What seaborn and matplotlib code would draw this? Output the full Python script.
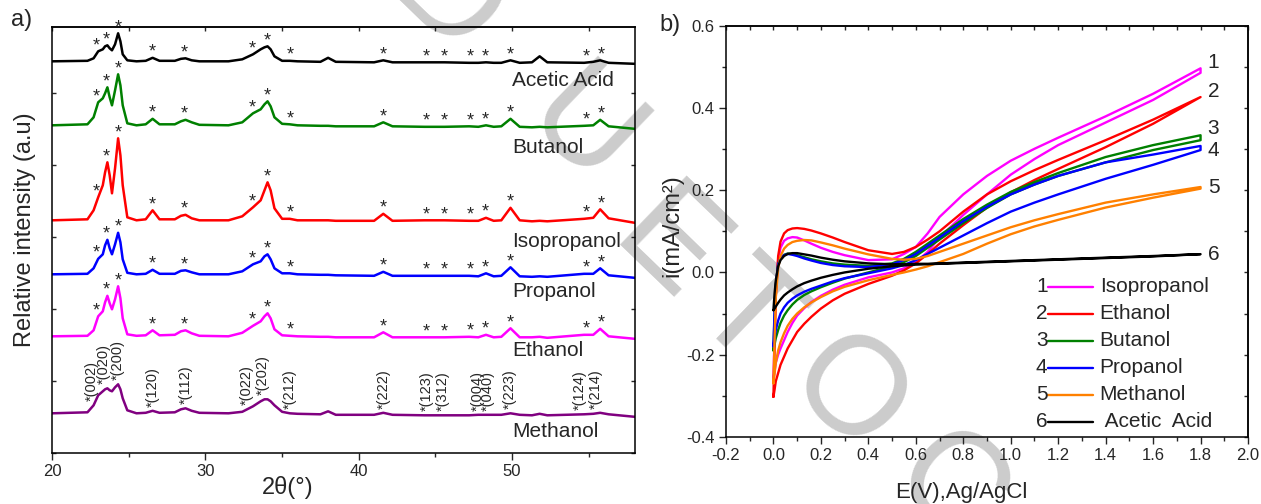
import numpy as np
import pandas as pd
import seaborn as sns
import matplotlib.pyplot as plt
from matplotlib.ticker import MultipleLocator, FormatStrFormatter

# ---------------- a) XRD patterns (counts above each baseline, a.u.) ----------------
two_theta = [20.0, 22.3, 22.7, 23.0, 23.3, 23.45, 23.6, 23.75, 23.9, 24.1, 24.3, 24.45, 24.6, 24.9,
             25.5, 26.1, 26.55, 27.0, 28.0, 28.4, 28.7, 29.1, 29.6, 31.5, 32.4, 33.1, 33.6, 33.85,
             34.05, 34.25, 34.5, 35.0, 35.5, 36.0, 37.5, 38.0, 38.5, 41.0, 41.6, 42.2, 44.3, 45.6,
             47.2, 47.8, 48.3, 48.8, 49.3, 49.9, 50.5, 51.3, 51.8, 52.3, 54.7, 55.3, 55.75, 56.3, 58.0]

acetic_acid = [0, 0.5, 3, 10, 12, 15, 16, 13, 11, 17, 28, 20, 7, 1,
               0, 0.5, 3.5, 0.5, 0.5, 2.5, 3, 1, 0, 0, 2, 7, 12, 14,
               15, 12, 5, 0.5, 0.5, 0, -0.5, 3.5, -0.5, -1, 1, -1, -1, -1,
               -1.5, -1.5, -1, -1.5, -1.5, 1, -1.5, -1, 5, -1, -1.5, -0.5, 1, -1.5, -2.5]
butanol = [0, 1, 8, 23, 27, 32, 38, 28, 20, 35, 51, 40, 20, 2,
           0, 1, 6.5, 1, 1, 4, 5.5, 3, 0.5, 0, 3, 12, 16, 21,
           24, 19, 8, 1.5, 1, 0, -0.5, -0.5, -1, -1, 3, -1, -1.5, -1.5,
           -1, -1.5, 0, -1.5, -1, 6.5, -1.5, -2, -1.5, -2, -0.5, 0, 5.5, -1, -3.5]
isopropanol = [0, 1, 10, 23, 35, 48, 58, 45, 27, 52, 82, 65, 35, 3,
               0, 1, 10, 1, 1, 4.5, 5.5, 2, 0, 0, 4, 13, 20, 30,
               38, 30, 12, 1.5, 1.5, 0, 0, 0, -0.5, -0.5, 6.5, -0.5, 0, 0,
               -0.5, -0.5, 2.5, -0.5, 0, 12.5, 0, -1, -0.5, -1, 1.5, 2.5, 11, 2, -2.5]
propanol = [0, 0.5, 6, 15.5, 20, 29, 34.5, 26, 20, 30, 41.5, 32, 15, 1.5,
            0, 0.5, 4.5, 0.5, 0.5, 3.5, 4, 2, 0, 0, 3, 10, 13, 18,
            20, 15, 6, 1, 1, 0, -0.5, -0.5, -1, -1.5, 2.5, -1.5, -1.5, -1.5,
            -1.5, -2, 1, -2, -1.5, 7, -2, -2.5, -2, -2.5, 0.5, 0.5, 6, -1, -3.5]
ethanol = [0, 0.5, 6, 20, 25, 34, 40.5, 33, 27, 37, 50, 38, 18, 2,
           0.5, 1, 6, 1, 1.5, 5, 6, 3, 0.5, 0, 3.5, 10.5, 15, 20,
           23, 18, 7, 1, 0.5, 0, -0.5, -0.5, -1, -1, 4, -1, -1, -1,
           -0.5, -1, 1.5, -1, -0.5, 8, -1, -1, -0.5, -1.5, 1.5, 1.5, 7.5, 0, -2.5]
methanol = [0, 1, 8, 18, 22, 24, 25, 23, 22, 26, 29, 24, 15, 3,
            0, 0.5, 2.5, 0.5, 1, 4, 5, 2.5, 0.5, 0, 1.5, 7, 12, 14,
            14, 12, 8, 1.5, 0, -0.5, -1, 2, -1.5, -1.5, 0.5, -1.5, -2, -2,
            -2, -1.5, -1.5, -1.5, -1.5, 0, -1.5, -2, -0.5, -2, -1, -0.5, 0.5, -1, -3.5]

xrd_samples = ["Acetic Acid", "Butanol", "Isopropanol", "Propanol", "Ethanol", "Methanol"]
xrd_counts = [acetic_acid, butanol, isopropanol, propanol, ethanol, methanol]
xrd_offsets = [392, 328, 233, 179, 117, 40]
xrd_colors = ["black", "#008000", "#ff0000", "#0000ff", "#ff00ff", "#800080"]
label_y = [373, 306, 212, 162, 103, 22]

star_positions = [22.9, 23.55, 24.3, 26.55, 28.6, 33.05, 34.05, 35.5, 41.6,
                  44.4, 45.6, 47.25, 48.25, 49.9, 54.85, 55.8]
hkl_labels = ["(002)", "(020)", "(200)", "(120)", "(112)", "(022)", "(202)", "(212)",
              "(222)", "(123)", "(312)", "(004)", "(040)", "(223)", "(124)", "(214)"]
hkl_positions = [22.58, 23.38, 24.31, 26.58, 28.71, 32.7, 33.76, 35.5,
                 41.62, 44.41, 45.48, 47.74, 48.41, 49.87, 54.4, 55.46]

# ---------------- b) cyclic voltammograms (mA/cm2) ----------------
potential = [0, 0.005, 0.01, 0.02, 0.03, 0.045, 0.06, 0.08, 0.1, 0.13, 0.16, 0.2, 0.25, 0.3,
             0.4, 0.5, 0.55, 0.6, 0.65, 0.7, 0.8, 0.9, 1.0, 1.1, 1.2, 1.4, 1.6, 1.8]

isopropanol_fwd = [-0.26, -0.15, -0.05, 0.03, 0.06, 0.077, 0.083, 0.086, 0.085, 0.078, 0.07, 0.06, 0.05, 0.042,
                   0.03, 0.032, 0.045, 0.062, 0.095, 0.135, 0.19, 0.235, 0.272, 0.301, 0.328, 0.38, 0.435, 0.497]
isopropanol_rev = [-0.26, -0.24, -0.22, -0.2, -0.185, -0.165, -0.145, -0.123, -0.105, -0.087, -0.072, -0.057, -0.042, -0.03,
                   -0.012, 0.0, 0.01, 0.025, 0.05, 0.085, 0.14, 0.19, 0.238, 0.276, 0.31, 0.365, 0.42, 0.486]
ethanol_fwd = [-0.303, -0.18, -0.06, 0.04, 0.075, 0.095, 0.103, 0.107, 0.108, 0.106, 0.102, 0.095, 0.085, 0.074,
               0.054, 0.045, 0.05, 0.062, 0.08, 0.1, 0.148, 0.19, 0.222, 0.249, 0.274, 0.322, 0.372, 0.427]
ethanol_rev = [-0.303, -0.285, -0.265, -0.245, -0.225, -0.205, -0.185, -0.165, -0.145, -0.125, -0.108, -0.088, -0.068, -0.052,
               -0.028, -0.008, 0.005, 0.022, 0.045, 0.07, 0.115, 0.158, 0.195, 0.225, 0.252, 0.305, 0.362, 0.427]
butanol_fwd = [-0.19, -0.1, -0.03, 0.02, 0.035, 0.043, 0.046, 0.045, 0.042, 0.037, 0.032, 0.027, 0.022, 0.019,
               0.016, 0.022, 0.033, 0.05, 0.07, 0.09, 0.13, 0.165, 0.196, 0.22, 0.242, 0.281, 0.31, 0.334]
butanol_rev = [-0.19, -0.175, -0.16, -0.14, -0.123, -0.105, -0.092, -0.078, -0.067, -0.055, -0.046, -0.036, -0.025, -0.015,
               0.0, 0.015, 0.025, 0.04, 0.06, 0.08, 0.12, 0.157, 0.19, 0.214, 0.235, 0.268, 0.298, 0.322]
propanol_fwd = [-0.18, -0.09, -0.03, 0.02, 0.035, 0.042, 0.045, 0.043, 0.04, 0.034, 0.029, 0.023, 0.018, 0.015,
                0.013, 0.02, 0.03, 0.045, 0.065, 0.085, 0.125, 0.16, 0.19, 0.214, 0.235, 0.268, 0.287, 0.308]
propanol_rev = [-0.18, -0.16, -0.14, -0.117, -0.1, -0.085, -0.074, -0.064, -0.056, -0.047, -0.04, -0.032, -0.022, -0.014,
                -0.002, 0.01, 0.018, 0.03, 0.045, 0.06, 0.09, 0.12, 0.148, 0.17, 0.19, 0.228, 0.262, 0.298]
methanol_fwd = [-0.27, -0.16, -0.06, 0.01, 0.04, 0.058, 0.067, 0.074, 0.077, 0.079, 0.078, 0.073, 0.066, 0.058,
                0.044, 0.033, 0.031, 0.033, 0.04, 0.05, 0.07, 0.09, 0.11, 0.127, 0.142, 0.17, 0.19, 0.208]
methanol_rev = [-0.27, -0.245, -0.22, -0.19, -0.17, -0.148, -0.13, -0.113, -0.1, -0.085, -0.073, -0.06, -0.046, -0.035,
                -0.019, -0.006, 0.0, 0.007, 0.015, 0.025, 0.045, 0.07, 0.093, 0.112, 0.128, 0.158, 0.182, 0.204]
acetic_fwd = [-0.092, -0.05, -0.02, 0.015, 0.03, 0.04, 0.045, 0.047, 0.047, 0.044, 0.041, 0.036, 0.031, 0.027,
              0.022, 0.02, 0.02, 0.021, 0.021, 0.022, 0.024, 0.026, 0.028, 0.03, 0.032, 0.036, 0.04, 0.0445]
acetic_rev = [-0.092, -0.088, -0.083, -0.074, -0.066, -0.056, -0.049, -0.041, -0.034, -0.026, -0.02, -0.013, -0.006, 0.0,
              0.009, 0.015, 0.017, 0.019, 0.02, 0.021, 0.023, 0.025, 0.027, 0.029, 0.031, 0.035, 0.039, 0.0445]

cv_samples = ["Isopropanol", "Ethanol", "Butanol", "Propanol", "Methanol", " Acetic  Acid"]
cv_forward = [isopropanol_fwd, ethanol_fwd, butanol_fwd, propanol_fwd, methanol_fwd, acetic_fwd]
cv_reverse = [isopropanol_rev, ethanol_rev, butanol_rev, propanol_rev, methanol_rev, acetic_rev]
cv_colors = ["#ff00ff", "#ff0000", "#008000", "#0000ff", "#ff8000", "black"]
end_nudge = [0.014, 0.013, 0.016, -0.01, 0.0, 0.0]

# ---------------- figure ----------------
sns.set_theme(style="ticks")
plt.rcParams["font.family"] = ["Liberation Sans", "DejaVu Sans"]
plt.rcParams["axes.unicode_minus"] = False

fig = plt.figure(figsize=(12.61, 5.04), dpi=100)
ax_a = fig.add_axes([0.0414, 0.1006, 0.4619, 0.8452])
ax_b = fig.add_axes([0.5757, 0.1335, 0.4140, 0.8149])

# faint watermark behind both panels
wm_centres = [(445, 5), (580, 133), (666, 250), (745, 318), (845, 398), (947, 492)]
for letter, (px, py) in zip("DUETOC", wm_centres):
    fig.text(px / 1261, 1 - py / 504, letter, rotation=-44, fontsize=100, color="#cccccc",
             ha="center", va="center", zorder=-1)

# ---- panel a
frames = []
for name, vals, off in zip(xrd_samples, xrd_counts, xrd_offsets):
    frames.append(pd.DataFrame({"two_theta": two_theta, "counts": np.array(vals) + off, "sample": name}))
xrd_df = pd.concat(frames, ignore_index=True)
sns.lineplot(data=xrd_df, x="two_theta", y="counts", hue="sample", estimator=None, sort=False,
             palette=dict(zip(xrd_samples, xrd_colors)), linewidth=1.8, legend=False, ax=ax_a)

tt = np.array(two_theta)
for name, vals, off, ly in zip(xrd_samples, xrd_counts, xrd_offsets, label_y):
    curve = np.array(vals) + off
    ax_a.text(50.0, ly, name, fontsize=15, ha="left", va="center")
    if name == "Methanol":
        for hkl, pos in zip(hkl_labels, hkl_positions):
            near = np.abs(tt - pos) <= 0.35
            top = max(np.interp(pos, tt, curve), curve[near].max() if near.any() else -1e9)
            ax_a.text(pos, top + 4, "*" + hkl, rotation=90, fontsize=10.5, ha="center", va="bottom")
    else:
        for pos in star_positions:
            near = np.abs(tt - pos) <= 0.2
            top = max(np.interp(pos, tt, curve), curve[near].max() if near.any() else -1e9)
            ax_a.text(pos, top + 1, "*", fontsize=13, ha="center", va="baseline")

ax_a.set_xlim(20, 58)
ax_a.set_ylim(0, 426)
ax_a.set_facecolor("none")
ax_a.xaxis.set_major_locator(MultipleLocator(10))
ax_a.xaxis.set_minor_locator(MultipleLocator(5))
ax_a.yaxis.set_major_locator(MultipleLocator(72))
ax_a.tick_params(axis="x", which="major", direction="out", length=5, width=1, labelsize=12, pad=3)
ax_a.tick_params(axis="x", which="minor", direction="out", length=3, width=1)
ax_a.tick_params(axis="y", which="major", direction="in", length=3, width=1,
                 left=True, right=True, labelleft=False)
top_a = ax_a.secondary_xaxis("top")
top_a.xaxis.set_major_locator(MultipleLocator(5))
top_a.tick_params(direction="in", length=3, width=1, labeltop=False)
ax_a.set_xlabel("2θ(°)", fontsize=17)
ax_a.set_ylabel("Relative intensity (a.u)", fontsize=17)
ax_a.xaxis.set_label_coords(0.405, -0.053)
ax_a.yaxis.set_label_coords(-0.028, 0.524)
fig.text(22 / 1261, 1 - 20 / 504, "a)", fontsize=17, ha="center", va="center")

# ---- panel b
frames = []
for name, fwd, rev in zip(cv_samples, cv_forward, cv_reverse):
    loop_e = list(potential) + list(potential[::-1])
    loop_i = list(fwd) + list(rev[::-1])
    frames.append(pd.DataFrame({"E": loop_e, "i": loop_i, "sample": name}))
cv_df = pd.concat(frames, ignore_index=True)
sns.lineplot(data=cv_df, x="E", y="i", hue="sample", estimator=None, sort=False,
             palette=dict(zip(cv_samples, cv_colors)), linewidth=1.7, legend=False, ax=ax_b)

for k, (fwd, nudge) in enumerate(zip(cv_forward, end_nudge)):
    ax_b.text(1.83, fwd[-1] + nudge, str(k + 1), fontsize=15, ha="left", va="center")

# legend: number, line, name
for k, (name, col) in enumerate(zip(cv_samples, cv_colors)):
    y = 0.365 - k * 0.0657
    ax_b.text(0.605, y, str(k + 1), transform=ax_b.transAxes, fontsize=15, ha="center", va="center")
    ax_b.plot([0.617, 0.704], [y, y], transform=ax_b.transAxes, color=col, linewidth=1.7)
    ax_b.text(0.716, y, name, transform=ax_b.transAxes, fontsize=15, ha="left", va="center")

ax_b.set_xlim(-0.2, 2.0)
ax_b.set_ylim(-0.4, 0.6)
ax_b.set_facecolor("none")
ax_b.xaxis.set_major_locator(MultipleLocator(0.2))
ax_b.xaxis.set_minor_locator(MultipleLocator(0.1))
ax_b.yaxis.set_major_locator(MultipleLocator(0.2))
ax_b.yaxis.set_minor_locator(MultipleLocator(0.1))
ax_b.xaxis.set_major_formatter(FormatStrFormatter("%.1f"))
ax_b.yaxis.set_major_formatter(FormatStrFormatter("%.1f"))
ax_b.tick_params(which="major", direction="out", length=5, width=1, labelsize=12, pad=3)
ax_b.tick_params(which="minor", direction="out", length=3, width=1)
top_b = ax_b.secondary_xaxis("top")
top_b.xaxis.set_major_locator(MultipleLocator(0.1))
top_b.tick_params(direction="in", length=3, width=1, labeltop=False)
right_b = ax_b.secondary_yaxis("right")
right_b.yaxis.set_major_locator(MultipleLocator(0.1))
right_b.tick_params(direction="in", length=3, width=1, labelright=False)
ax_b.set_xlabel("E(V),Ag/AgCl", fontsize=16)
ax_b.set_ylabel("i(mA/cm²)", fontsize=17)
ax_b.xaxis.set_label_coords(0.451, -0.110)
ax_b.yaxis.set_label_coords(-0.082, 0.513)
fig.text(670 / 1261, 1 - 25 / 504, "b)", fontsize=17, ha="center", va="center")

for ax in (ax_a, ax_b):
    for sp in ax.spines.values():
        sp.set_linewidth(1.1)
        sp.set_color("black")

fig.savefig("out.png", dpi=100)
